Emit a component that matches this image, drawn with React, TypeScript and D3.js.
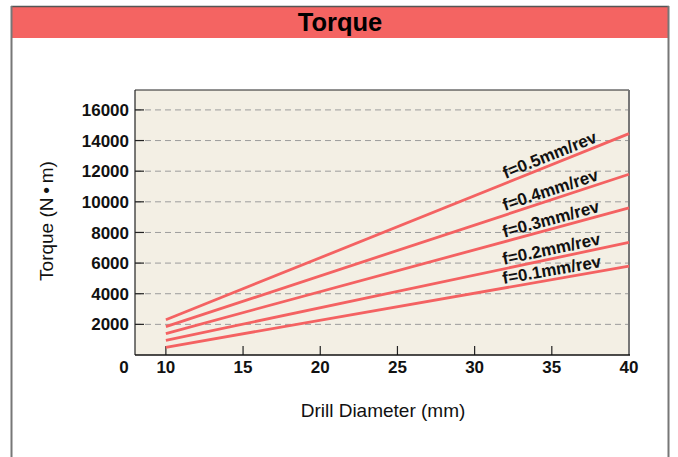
import React from "react";
import * as d3 from "d3";

const diameters = [10, 40];
const feedLabels = ["f=0.1mm/rev", "f=0.2mm/rev", "f=0.3mm/rev", "f=0.4mm/rev", "f=0.5mm/rev"];
const torque01 = [500, 5800];
const torque02 = [950, 7350];
const torque03 = [1400, 9600];
const torque04 = [1850, 11800];
const torque05 = [2300, 14450];
const seriesValues = [torque01, torque02, torque03, torque04, torque05];
const yTicks = [2000, 4000, 6000, 8000, 10000, 12000, 14000, 16000];
const xTicks = [10, 15, 20, 25, 30, 35, 40];

const W = 678;
const H = 457;
const left = 135;
const right = 629;
const top = 90;
const bottom = 355;
const LINE = "#f46262";
const FONT = "'Liberation Sans', Arial, Helvetica, sans-serif";

export default function App() {
  const x = d3.scaleLinear().domain([8, 40]).range([left, right]);
  const y = d3.scaleLinear().domain([0, 17300]).range([bottom, top]);
  const line = d3
    .line<[number, number]>()
    .x((d) => x(d[0]))
    .y((d) => y(d[1]));
  const labelX = 35.1;

  return (
    <svg
      width={W}
      height={H}
      viewBox={`0 0 ${W} ${H}`}
      style={{ position: "absolute", left: 0, top: 0, background: "#fff" }}
      fontFamily={FONT}
    >
      {/* frame */}
      <rect x={12} y={7} width={656} height={31} fill="#f46462" />
      <line x1={11} x2={669} y1={6.5} y2={6.5} stroke="#555" strokeWidth={1.5} />
      <line x1={11.5} x2={11.5} y1={6} y2={H} stroke="#777" strokeWidth={2} />
      <line x1={668.5} x2={668.5} y1={6} y2={H} stroke="#777" strokeWidth={2} />
      <text x={340} y={31} textAnchor="middle" fontSize={25.5} fontWeight="bold" fill="#000">
        Torque
      </text>

      {/* plot background */}
      <rect x={left} y={top} width={right - left} height={bottom - top} fill="#f3efe4" />

      {/* gridlines */}
      {yTicks.map((t) => (
        <g key={t}>
          <line x1={left} x2={right} y1={y(t)} y2={y(t)} stroke="#9c9c9c" strokeWidth={1} strokeDasharray="6,4" />
          <line x1={left} x2={left + 9} y1={y(t)} y2={y(t)} stroke="#222" strokeWidth={1.2} />
          <text x={129} y={y(t)} dy="0.36em" textAnchor="end" fontSize={17} fontWeight="bold" fill="#111">
            {t}
          </text>
        </g>
      ))}

      {/* x ticks */}
      {xTicks.map((t) => (
        <g key={t}>
          {t < 40 && (
            <line x1={x(t)} x2={x(t)} y1={bottom} y2={bottom - 9} stroke="#222" strokeWidth={1.2} />
          )}
          <text x={x(t)} y={373} textAnchor="middle" fontSize={17} fontWeight="bold" fill="#111">
            {t}
          </text>
        </g>
      ))}
      <text x={124} y={373} textAnchor="middle" fontSize={17} fontWeight="bold" fill="#111">
        0
      </text>

      {/* plot border */}
      <line x1={left} x2={right} y1={top} y2={top} stroke="#222" strokeWidth={1} />
      <line x1={left} x2={left} y1={top} y2={bottom} stroke="#222" strokeWidth={1.2} />
      <line x1={right} x2={right} y1={top} y2={bottom} stroke="#777" strokeWidth={2} />
      <line x1={left} x2={right + 1} y1={bottom} y2={bottom} stroke="#111" strokeWidth={1.5} />

      {/* series */}
      {seriesValues.map((vals, i) => {
        const pts = diameters.map((d, j) => [d, vals[j]] as [number, number]);
        const slope = (vals[1] - vals[0]) / (diameters[1] - diameters[0]);
        const ly = vals[0] + slope * (labelX - diameters[0]);
        const px = x(labelX);
        const py = y(ly);
        const ang = (Math.atan2(y(vals[1]) - y(vals[0]), x(diameters[1]) - x(diameters[0])) * 180) / Math.PI;
        return (
          <g key={feedLabels[i]}>
            <path d={line(pts) || ""} fill="none" stroke={LINE} strokeWidth={2.8} />
            <text
              transform={`translate(${px},${py}) rotate(${ang})`}
              y={-4}
              textAnchor="middle"
              fontSize={17}
              fontWeight="bold"
              fill="#111"
            >
              {feedLabels[i]}
            </text>
          </g>
        );
      })}

      {/* axis titles */}
      <text x={383} y={417} textAnchor="middle" fontSize={19} fill="#111">
        Drill Diameter (mm)
      </text>
      <text
        transform={`translate(53,221) rotate(-90)`}
        textAnchor="middle"
        fontSize={19}
        fill="#111"
      >
        Torque (N{"\u2009•\u2009"}m)
      </text>
    </svg>
  );
}
